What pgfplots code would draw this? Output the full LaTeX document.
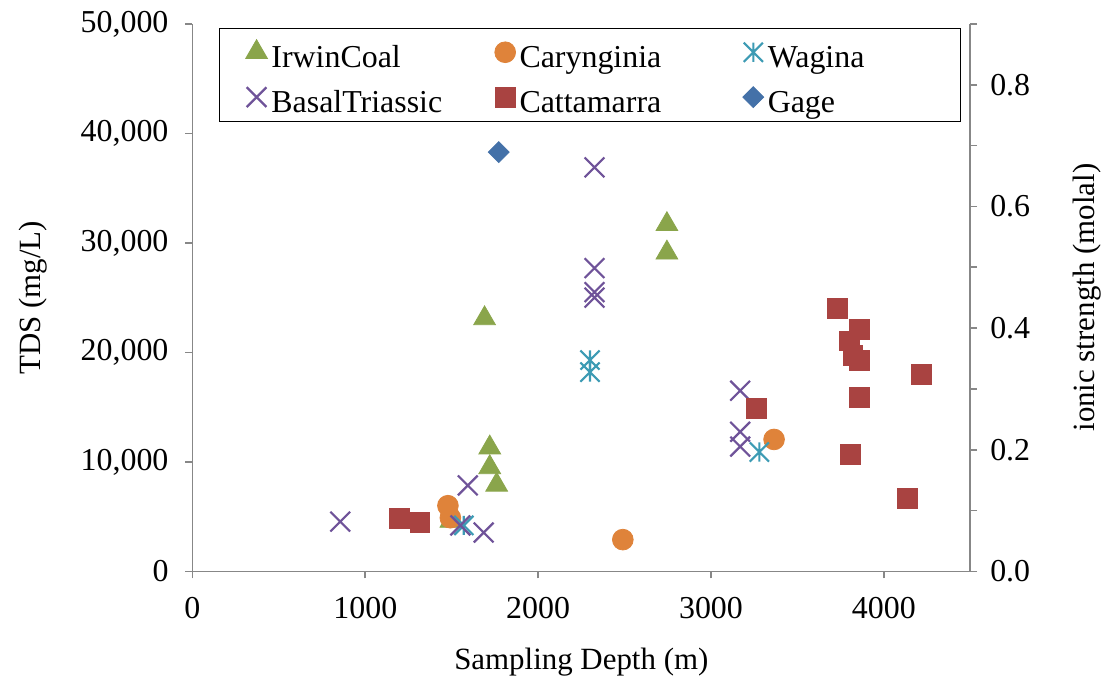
\documentclass[border=0pt]{standalone}
\usepackage{fontspec}
\setmainfont{Liberation Serif}
\usepackage{pgfplots}
\pgfplotsset{compat=1.18}
\definecolor{cIrwin}{HTML}{8AA54B}
\definecolor{cCary}{HTML}{DF833A}
\definecolor{cWag}{HTML}{3D9BB4}
\definecolor{cBasal}{HTML}{6F5399}
\definecolor{cCatt}{HTML}{A94341}
\definecolor{cGage}{HTML}{4471A8}
\definecolor{axgray}{HTML}{878787}
\pgfdeclareplotmark{xstar}{%
  \pgfpathmoveto{\pgfpoint{-\pgfplotmarksize}{-\pgfplotmarksize}}%
  \pgfpathlineto{\pgfpoint{\pgfplotmarksize}{\pgfplotmarksize}}%
  \pgfpathmoveto{\pgfpoint{-\pgfplotmarksize}{\pgfplotmarksize}}%
  \pgfpathlineto{\pgfpoint{\pgfplotmarksize}{-\pgfplotmarksize}}%
  \pgfpathmoveto{\pgfpoint{0pt}{-\pgfplotmarksize}}%
  \pgfpathlineto{\pgfpoint{0pt}{\pgfplotmarksize}}%
  \pgfusepathqstroke}
\newcommand{\lstrut}{\rule[-5pt]{0pt}{22pt}}
\begin{document}
\begin{tikzpicture}
\begin{axis}[
  scale only axis, width=390pt, height=274.5pt,
  xmin=0, xmax=4500, ymin=0, ymax=50000,
  axis x line*=bottom, axis y line*=left,
  axis line style={draw=axgray, line width=0.8pt, -},
  tick style={draw=axgray, line width=0.8pt},
  tick align=outside, major tick length=3.5pt,
  xtick={0,1000,2000,3000,4000}, ytick={0,10000,20000,30000,40000,50000},
  scaled x ticks=false, scaled y ticks=false,
  /pgf/number format/assume math mode=true,
  x tick label style={/pgf/number format/1000 sep={}, font=\fontsize{16}{19}\selectfont, yshift=-6pt},
  y tick label style={/pgf/number format/1000 sep={,}, font=\fontsize{16}{19}\selectfont, xshift=-5pt},
  xlabel={Sampling Depth (m)}, ylabel={TDS (mg/L)},
  label style={font=\fontsize{15.5}{18}\selectfont},
  x label style={at={(axis description cs:0.5,-0.166)}, anchor=center},
  y label style={at={(axis description cs:-0.2051,0.5)}, anchor=center},
  legend columns=3,
  legend cell align=left,
  legend style={at={(axis description cs:0.0346,0.9927)}, anchor=north west,
    draw=black, inner xsep=13pt, inner ysep=0.75pt, column sep=0pt, row sep=0pt,
    font=\fontsize{16}{19}\selectfont},
  legend image code/.code={\draw[mark repeat=2,mark phase=2,#1] plot coordinates {(0pt,0pt) (5pt,0pt) (10pt,0pt)};},
]
\addplot[only marks, mark=triangle*, mark size=6.3pt, color=cIrwin] coordinates {
 (1690,23100) (2745,31700) (2745,29100) (1720,11300) (1720,9500) (1760,7900) (1495,4600)};
\addlegendentry{\makebox[110pt][l]{\lstrut IrwinCoal}}
\addplot[only marks, mark=*, mark size=5.2pt, color=cCary] coordinates {
 (1478,6000) (1492,4900) (2490,2900) (3365,12050)};
\addlegendentry{\makebox[110pt][l]{\lstrut Carynginia}}
\addplot[only marks, mark=xstar, mark size=4.8pt, color=cWag, mark options={line width=1.1pt}] coordinates {
 (2300,19300) (2300,18200) (3280,10900) (1570,4200)};
\addlegendentry{\makebox[81.5pt][l]{\lstrut Wagina}}
\addplot[only marks, mark=x, mark size=7pt, color=cBasal, mark options={line width=1.1pt}] coordinates {
 (855,4550) (1593,7850) (1550,4200) (1685,3550) (2326,36900) (2326,27700) (2326,25500) (2326,25000)
 (3169,16500) (3169,12750) (3169,11400)};
\addlegendentry{\makebox[110pt][l]{\lstrut BasalTriassic}}
\addplot[only marks, mark=square*, mark size=5pt, color=cCatt] coordinates {
 (1200,4800) (1316,4500) (3734,24000) (3856,22100) (3803,21050) (3821,19700) (3856,19300)
 (4219,18000) (3856,15850) (3261,14850) (3804,10650) (4138,6650)};
\addlegendentry{\makebox[110pt][l]{\lstrut Cattamarra}}
\addplot[only marks, mark=square*, mark size=3.7pt, color=cGage, mark options={rotate=45}] coordinates {
 (1772,38300)};
\addlegendentry{\makebox[81.5pt][l]{\lstrut Gage}}
\coordinate (bl) at (rel axis cs:0,0);
\coordinate (tr) at (rel axis cs:1,1);
\end{axis}
\begin{axis}[
  scale only axis, width=390pt, height=274.5pt,
  xmin=0, xmax=4500, ymin=0, ymax=0.9,
  axis x line=none, axis y line*=right,
  axis line style={draw=axgray, line width=0.8pt, -},
  tick style={draw=axgray, line width=0.8pt},
  tick align=outside, major tick length=3.5pt, minor tick length=3.5pt,
  ytick={0,0.2,0.4,0.6,0.8}, minor ytick={0.1,0.3,0.5,0.7,0.9},
  /pgf/number format/assume math mode=true,
  y tick label style={/pgf/number format/.cd, fixed, fixed zerofill, precision=1, /tikz/.cd, font=\fontsize{16}{19}\selectfont, xshift=3pt},
  ylabel={ionic strength (molal)},
  label style={font=\fontsize{15.5}{18}\selectfont},
  y label style={at={(axis description cs:1.1505,0.5)}, anchor=center},
]
\addplot[draw=none] coordinates {(0,0)};
\end{axis}
\path ([xshift=-96.5pt,yshift=-54.5pt]bl) rectangle ([xshift=67.7pt,yshift=12pt]tr);
\end{tikzpicture}
\end{document}
